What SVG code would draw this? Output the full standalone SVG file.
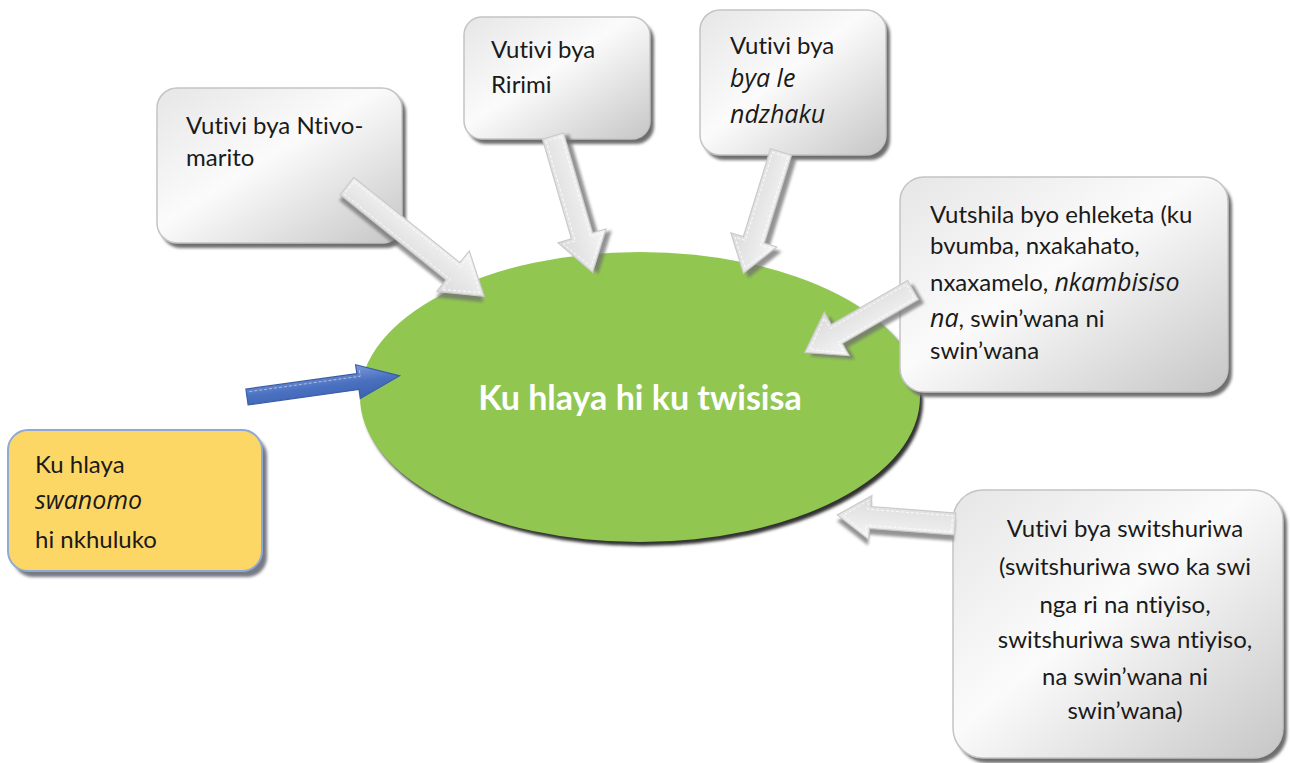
<svg xmlns="http://www.w3.org/2000/svg" width="1290" height="763" viewBox="0 0 1290 763">
<defs>
<linearGradient id="gbox" x1="0" y1="0" x2="1" y2="1">
<stop offset="0" stop-color="#e6e6e6"/>
<stop offset="0.45" stop-color="#fbfbfb"/>
<stop offset="1" stop-color="#c6c6c6"/>
</linearGradient>
<linearGradient id="garrow" x1="0" y1="0" x2="0" y2="1">
<stop offset="0" stop-color="#f6f6f6"/>
<stop offset="1" stop-color="#dadada"/>
</linearGradient>
<linearGradient id="gblue" x1="0" y1="0" x2="0" y2="1">
<stop offset="0" stop-color="#7d9bd8"/>
<stop offset="0.5" stop-color="#4a70c0"/>
<stop offset="1" stop-color="#3c62b0"/>
</linearGradient>
<filter id="blur2" x="-10%" y="-10%" width="120%" height="120%"><feGaussianBlur stdDeviation="1.5"/></filter>
</defs>
<style>
.box{fill:url(#gbox);stroke:#c4c4c4;stroke-width:1.5}
.shadow{fill:#6e6e6e;filter:url(#blur2)}
.t{font-family:Lato,"Open Sans","Liberation Sans",sans-serif;font-size:24px;fill:#1a1a1a;font-variant-ligatures:none}
.h{font-family:"Open Sans","DejaVu Sans",sans-serif;font-style:italic;font-size:25px;fill:#1a1a1a}
.arr{fill:url(#garrow);stroke:#cacaca;stroke-width:1.2}
.arrin{fill:none;stroke:#ffffff;stroke-width:0.8;stroke-dasharray:3 2}
.ashadow{fill:#6f6f6f;opacity:0.75;filter:url(#blur2)}
</style>
<rect width="1290" height="763" fill="#ffffff"/>

<g id="center">
<ellipse cx="643" cy="401" rx="280" ry="145" fill="#333333" filter="url(#blur2)"/>
<ellipse cx="640" cy="397" rx="280" ry="145" fill="#91c751"/>
<text x="640" y="410" text-anchor="middle" font-family="Lato,'Open Sans','Liberation Sans',sans-serif" font-weight="bold" font-size="34" fill="#ffffff" style="font-variant-ligatures:none">Ku hlaya hi ku twisisa</text>
</g>

<g id="node-ntivo">
<rect class="shadow" x="161" y="93" width="245" height="155" rx="20"/>
<rect class="box" x="157" y="88" width="245" height="155" rx="20"/>
<text class="t" x="186" y="134">Vutivi bya Ntivo-</text>
<text class="t" x="186" y="166">marito</text>
</g>

<g id="node-ririmi">
<rect class="shadow" x="468" y="22" width="186" height="122" rx="18"/>
<rect class="box" x="464" y="17" width="186" height="122" rx="18"/>
<text class="t" x="491" y="58">Vutivi bya</text>
<text class="t" x="491" y="93">Ririmi</text>
</g>

<g id="node-ndzhaku">
<rect class="shadow" x="704" y="15" width="186" height="145" rx="20"/>
<rect class="box" x="700" y="10" width="186" height="145" rx="20"/>
<text class="t" x="730" y="54">Vutivi bya</text>
<text class="h" x="730" y="87">bya le</text>
<text class="h" x="730" y="123">ndzhaku</text>
</g>

<g id="node-vutshila">
<rect class="shadow" x="904" y="182" width="328" height="215" rx="24"/>
<rect class="box" x="900" y="177" width="328" height="215" rx="24"/>
<text class="t" x="930" y="223">Vutshila byo ehleketa (ku</text>
<text class="t" x="930" y="254">bvumba, nxakahato,</text>
<text x="930" y="291"><tspan class="t">nxaxamelo, </tspan><tspan class="h">nkambisiso</tspan></text>
<text x="930" y="327"><tspan class="h">na</tspan><tspan class="t">, swin’wana ni</tspan></text>
<text class="t" x="930" y="359">swin’wana</text>
</g>

<g id="node-swanomo">
<rect x="13" y="436" width="254" height="141" rx="20" fill="#767a84" filter="url(#blur2)"/>
<rect x="8" y="430" width="254" height="141" rx="20" fill="#fdd766" stroke="#8fa9d6" stroke-width="2"/>
<text class="t" x="35" y="473">Ku hlaya</text>
<text class="h" x="35" y="509">swanomo</text>
<text class="t" x="35" y="548">hi nkhuluko</text>
</g>

<g id="node-switshuriwa">
<rect class="shadow" x="957" y="495" width="330" height="268" rx="30"/>
<rect class="box" x="953" y="490" width="330" height="268" rx="30"/>
<g class="t" text-anchor="middle">
<text x="1125" y="537">Vutivi bya switshuriwa</text>
<text x="1125" y="575">(switshuriwa swo ka swi</text>
<text x="1125" y="613">nga ri na ntiyiso,</text>
<text x="1125" y="648">switshuriwa swa ntiyiso,</text>
<text x="1125" y="685">na swin’wana ni</text>
<text x="1125" y="719">swin’wana)</text>
</g>
</g>

<g id="connectors">
<g transform="translate(347,186) rotate(38.8)">
<path class="ashadow" transform="translate(3,5)" d="M0,-11 L136,-11 L136,-26 L176,0 L136,26 L136,11 L0,11 Z"/>
<path class="arr" d="M0,-11 L136,-11 L136,-26 L176,0 L136,26 L136,11 L0,11 Z"/>
<path class="arrin" d="M3,-8 L139,-8 L139,-21 L170,0 L139,21 L139,8 L3,8 Z"/>
</g>
<g transform="translate(553,136) rotate(73.8)">
<path class="ashadow" transform="translate(3,-5)" d="M0,-11 L104,-11 L104,-25 L142,0 L104,25 L104,11 L0,11 Z"/>
<path class="arr" d="M0,-11 L104,-11 L104,-25 L142,0 L104,25 L104,11 L0,11 Z"/>
<path class="arrin" d="M3,-8 L107,-8 L107,-20 L136,0 L107,20 L107,8 L3,8 Z"/>
</g>
<g transform="translate(781,152) rotate(107.2)">
<path class="ashadow" transform="translate(3,-6)" d="M0,-11 L92,-11 L92,-24 L127,0 L92,24 L92,11 L0,11 Z"/>
<path class="arr" d="M0,-11 L92,-11 L92,-24 L127,0 L92,24 L92,11 L0,11 Z"/>
<path class="arrin" d="M3,-8 L95,-8 L95,-19 L121,0 L95,19 L95,8 L3,8 Z"/>
</g>
<g transform="translate(913,290) rotate(150)">
<path class="ashadow" transform="translate(-3,-6)" d="M0,-11 L88,-11 L88,-25 L125,0 L88,25 L88,11 L0,11 Z"/>
<path class="arr" d="M0,-11 L88,-11 L88,-25 L125,0 L88,25 L88,11 L0,11 Z"/>
<path class="arrin" d="M3,-8 L91,-8 L91,-20 L119,0 L91,20 L91,8 L3,8 Z"/>
</g>
<g transform="translate(955,524) rotate(184.4)">
<path class="ashadow" transform="translate(0,-6)" d="M0,-11 L85,-11 L85,-22 L118,0 L85,22 L85,11 L0,11 Z"/>
<path class="arr" d="M0,-11 L85,-11 L85,-22 L118,0 L85,22 L85,11 L0,11 Z"/>
<path class="arrin" d="M3,-8 L88,-8 L88,-17 L112,0 L88,17 L88,8 L3,8 Z"/>
</g>
<g transform="translate(247,397) rotate(-7.9)">
<path d="M0,-8 L112,-8 L112,-17 L154,0 L112,17 L112,8 L0,8 Z" fill="url(#gblue)" stroke="#3a5fa8" stroke-width="1.2"/>
<path d="M3,-5 L115,-5 L115,-12" fill="none" stroke="#b9c9ee" stroke-width="0.8" stroke-dasharray="3 2"/>
</g>
</g>
</svg>
